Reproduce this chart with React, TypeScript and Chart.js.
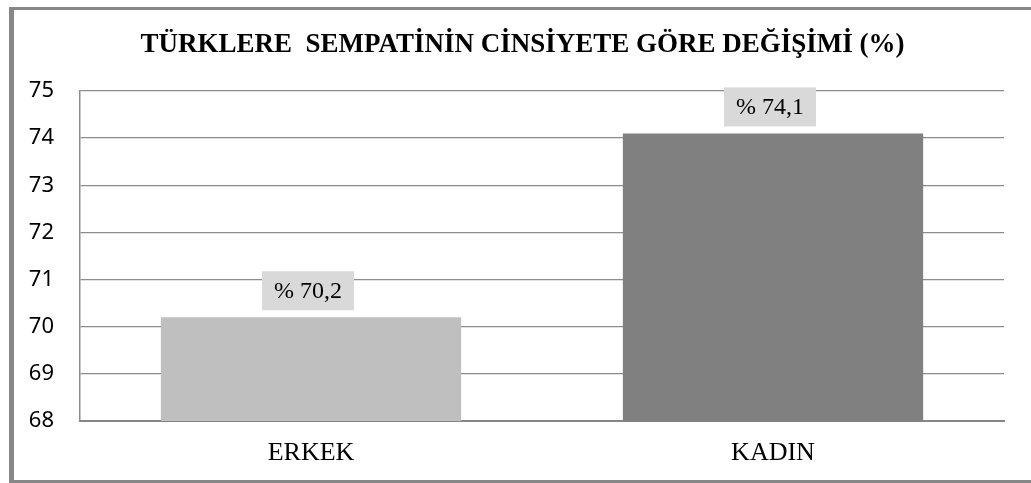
import React, { useEffect, useRef } from "react";
import { Chart, registerables } from "chart.js";

Chart.register(...registerables);

const categories = ["ERKEK", "KADIN"];
const values = [70.2, 74.1];
const valueLabels = ["% 70,2", "% 74,1"];
const barColors = ["#bfbfbf", "#808080"];
const yTicks = [68, 69, 70, 71, 72, 73, 74, 75];
const titleText = "TÜRKLERE  SEMPATİNİN CİNSİYETE GÖRE DEĞİŞİMİ (%)";

const TITLE_FONT = "bold 27px 'Liberation Serif'";

const labelBoxPlugin = {
  id: "labelBox",
  afterDatasetsDraw(chart: any) {
    const ctx = chart.ctx;
    const meta = chart.getDatasetMeta(0);
    ctx.save();
    ctx.font = "24px 'Liberation Serif'";
    ctx.textAlign = "center";
    ctx.textBaseline = "middle";
    meta.data.forEach((bar: any, i: number) => {
      const text = valueLabels[i];
      const w = 92;
      const h = 39;
      const cx = bar.x - 3;
      const bottom = bar.y - 7;
      ctx.fillStyle = "#d9d9d9";
      ctx.fillRect(cx - w / 2, bottom - h, w, h);
      ctx.fillStyle = "#000";
      ctx.fillText(text, cx, bottom - h / 2 + 1);
    });
    const tb = chart.titleBlock;
    if (tb) {
      ctx.font = TITLE_FONT;
      ctx.fillStyle = "#000";
      ctx.textAlign = "center";
      ctx.textBaseline = "middle";
      const y = tb.top + 19 + (27 * 1.2) / 2;
      ctx.fillText(titleText, chart.width / 2, y);
    }
    ctx.restore();
  },
};

export default function App() {
  const ref = useRef<HTMLCanvasElement>(null);
  useEffect(() => {
    if (!ref.current) return;
    const chart = new Chart(ref.current, {
      type: "bar",
      data: {
        labels: categories,
        datasets: [
          {
            data: values,
            backgroundColor: barColors,
            barPercentage: 0.65,
            categoryPercentage: 1,
          },
        ],
      },
      options: {
        animation: false,
        responsive: false,
        layout: { padding: { left: 0, right: 27, top: 0, bottom: 0 } },
        plugins: {
          legend: { display: false },
          tooltip: { enabled: false },
          title: {
            display: true,
            text: titleText,
            color: "rgba(0,0,0,0)",
            font: { family: "'Liberation Serif'", size: 27, weight: "bold" },
            padding: { top: 19, bottom: 29.6 },
          },
        },
        scales: {
          x: {
            afterFit(scale: any) {
              scale.height = 59;
            },
            grid: { display: false, drawTicks: false },
            border: { color: "#868686", width: 2 },
            ticks: {
              color: "#000",
              padding: 17,
              font: { family: "'Liberation Serif'", size: 26 },
            },
          },
          y: {
            min: 68,
            max: 75,
            afterFit(scale: any) {
              scale.width = 66;
            },
            afterBuildTicks(scale: any) {
              scale.ticks = yTicks.map((v) => ({ value: v }));
            },
            grid: { color: "#8c8c8c", lineWidth: 1.3, drawTicks: false },
            border: { color: "#8c8c8c", width: 1.5 },
            ticks: {
              color: "#000",
              padding: 26,
              font: { family: "'Noto Sans'", size: 22 },
            },
          },
        },
      },
      plugins: [labelBoxPlugin],
    });
    return () => chart.destroy();
  }, []);
  return (
    <div
      style={{
        position: "fixed",
        left: 9,
        top: 7,
        width: 1022,
        height: 476,
        boxSizing: "border-box",
        borderTop: "3px solid #878787",
        borderLeft: "5px solid #878787",
        borderBottom: "3px solid #878787",
        background: "#fff",
      }}
    >
      <canvas ref={ref} width={1017} height={470} style={{ display: "block" }} />
    </div>
  );
}
